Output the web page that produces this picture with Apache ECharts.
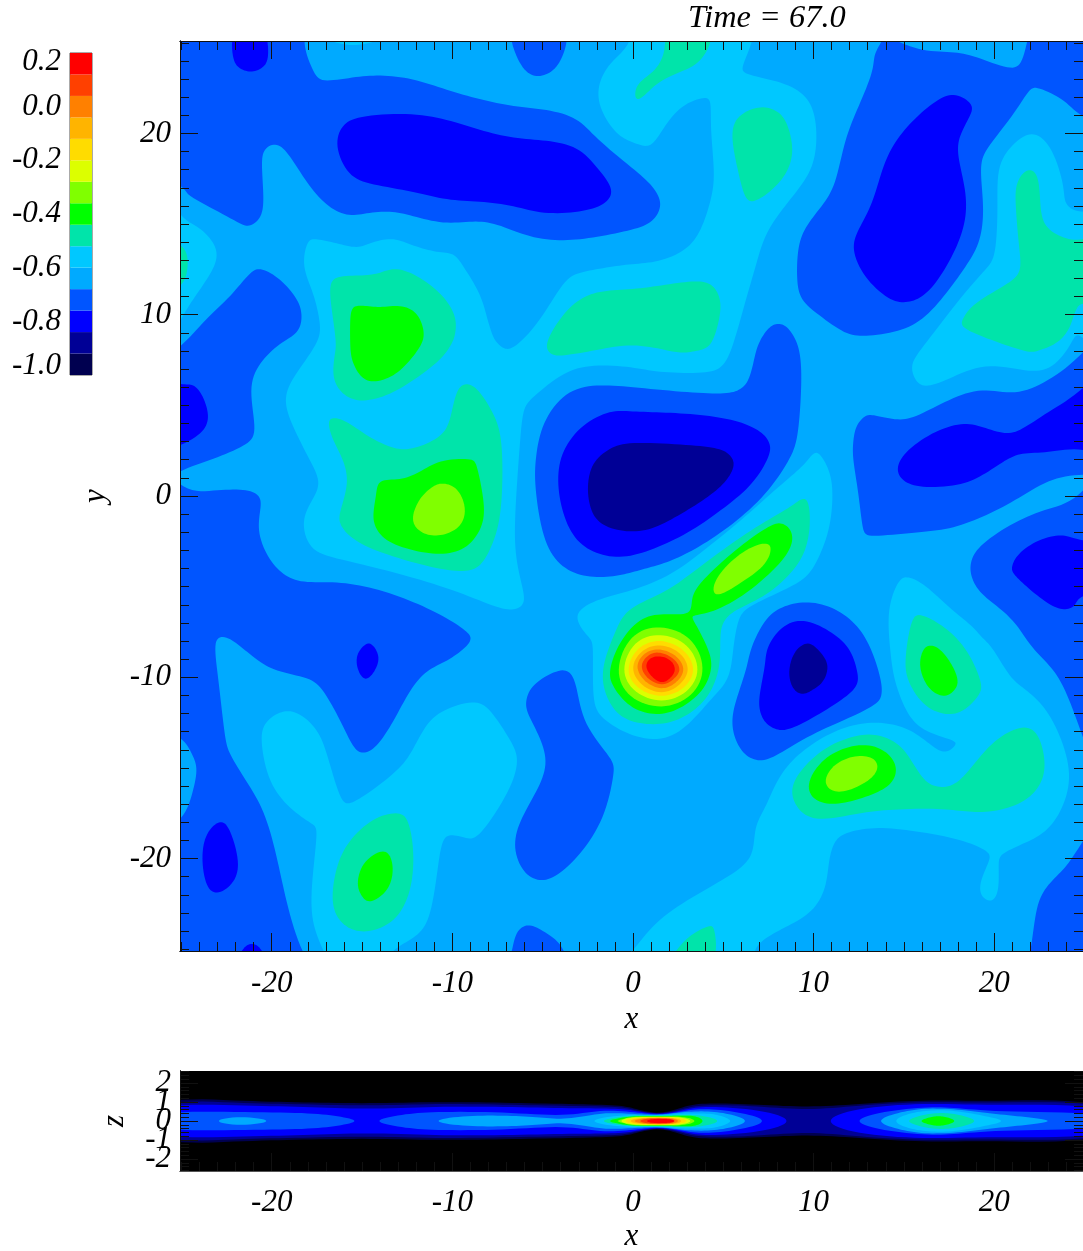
<!DOCTYPE html>
<html><head><meta charset="utf-8"><style>html,body{margin:0;padding:0;background:#fff;overflow:hidden}#c{width:1083px;height:1251px}</style>
<script src="https://cdn.jsdelivr.net/npm/echarts@6/dist/echarts.min.js"></script></head><body><div id="c"></div>
<script>
const titleText='Time = 67.0';
const levelColors=['#000050','#000096','#0000ff','#0055ff','#00aaff','#00c8ff','#00e4aa','#00ff00','#80ff00','#dcff00','#ffdc00','#ffb400','#ff8000','#ff4000','#ff0000'];
const barLabels=['-1.0','-0.8','-0.6','-0.4','-0.2','0.0','0.2'];
const barLabelSlots=[0.43,2.47,4.98,7.5,10,12.48,14.6];
const majorXY=[-20,-10,0,10,20];
const majorZ=[-2,-1,0,1,2];

// contour outlines in the x-y plane (x, y)
const c3TopLeft=[[-18.7,27],[-18.4,25.2],[-17.7,23.5],[-17.15,22.9],[-15.5,23.1],[-14,23.2],[-12.2,23],[-10.3,22.4],[-8.5,21.9],[-6.6,21.5],[-4.8,21.3],[-3.1,20.8],[-2,19.7],[-0.05,18.1],[1.05,17.1],[1.55,16.1],[1.05,15.15],[-0.05,14.7],[-2,14.3],[-3.85,14.1],[-5.7,14.3],[-7.55,15],[-8.85,15.15],[-10.5,15.05],[-12.2,15.45],[-13.45,15.7],[-14.75,15.6],[-15.85,15.5],[-17,16.1],[-18.05,17.3],[-19,18.75],[-19.7,19.4],[-20.4,19.1],[-20.55,18.2],[-20.45,16.35],[-20.65,15.35],[-21.3,14.9],[-21.95,15.15],[-24,16.25],[-24.7,16.7],[-25.1,17.3],[-27,19],[-27,27]];
const c2TopLong=[[-16.4,19.3],[-16.05,20.4],[-15.1,20.9],[-12.55,21.1],[-10.3,20.75],[-8.5,20.2],[-6.6,19.75],[-4.8,19.6],[-3.1,19.2],[-2,18.1],[-1.15,16.9],[-1.65,16.1],[-2.95,15.7],[-4.95,15.6],[-6.6,16],[-8.5,16.25],[-10.3,16.35],[-12.2,16.8],[-14.4,17.2],[-15.7,17.75]];
const c2TopSmall=[[-22.05,26],[-22.15,24.2],[-21.75,23.6],[-21.1,23.4],[-20.45,23.7],[-20.2,24.35],[-20.5,26]];
const c3TopSmall=[[-6.6,26],[-6.55,24.6],[-6,23.5],[-5.25,23.15],[-4.4,23.5],[-3.85,24.45],[-3.8,26]];
const c3TopRight=[[13.7,24.9],[14.15,25.3],[15.8,24.6],[17.65,24.5],[18.95,24.25],[20.8,23.6],[21.55,24],[22,25.7],[22.8,27],[27,27],[27,20.95],[24.9,20.95],[23.95,21.8],[22.45,22.5],[21.9,22.3],[21,20.95],[19.7,19.3],[19.3,18.4],[19.3,17.25],[19.4,15.6],[19.15,13.95],[18.4,12.65],[17.5,11.4],[16.2,9.9],[14.7,9.1],[12.85,8.85],[11.75,9],[10.3,10],[9.35,10.85],[9.1,11.95],[9.15,13.6],[9.55,14.8],[10.45,16],[11.2,17.25],[11.75,19.65],[12.5,21.5],[13.25,23.35],[13.35,24.25]];
const c2TopRight=[[17.85,22.15],[18.75,21.6],[18.65,20.95],[18.1,19.85],[18,18.75],[18.4,16.9],[18.4,15.25],[17.85,13.6],[16.9,11.95],[16,11],[15.1,10.7],[14.15,10.9],[12.85,12.1],[12.2,13.6],[12.5,14.7],[13.25,16.15],[13.8,18],[14.5,19.5],[15.65,20.85],[16.9,21.85]];
const c3Center=[[8.05,9.5],[8.6,9.25],[9.1,8.4],[9.3,7.3],[9.3,5.65],[9.1,3.25],[8.6,1.95],[7.33,0.1],[5.5,-1.55],[3.65,-2.8],[2.15,-3.55],[1.05,-3.9],[-0.05,-4.2],[-1.25,-4.45],[-2.75,-4.4],[-4.05,-3.75],[-4.95,-2.25],[-5.4,0.5],[-5.35,2.15],[-4.95,4],[-3.7,5.65],[-2,6.1],[-0.05,6],[2.7,5.75],[4.9,5.65],[5.85,5.85],[6.4,6.4],[6.7,7.5],[6.95,8.4],[7.5,9.25]];
const c2Center=[[-1.25,4.65],[-2.75,3.9],[-3.85,2.5],[-4.15,0.85],[-3.85,-0.98],[-3.1,-2.45],[-1.85,-3.2],[-0.35,-3.35],[1.4,-2.8],[3.25,-1.9],[5.1,-0.6],[6.6,0.68],[7.5,2.15],[7.55,2.9],[7.05,3.55],[5.85,4.1],[4,4.45],[1.8,4.6],[-0.05,4.65]];
const c1Center=[[-1.25,2.6],[-2.2,1.8],[-2.5,0.5],[-2.3,-0.8],[-1.65,-1.6],[-0.35,-1.95],[1.05,-1.8],[2.5,-1.07],[4,-0.15],[5.1,0.77],[5.6,1.7],[5.3,2.3],[4.55,2.65],[2.7,2.83],[-0.05,2.94]];
const c3Left=[[-21.2,12.3],[-20.55,12.5],[-19.55,11.95],[-18.6,10.85],[-18.35,9.9],[-18.6,9],[-19.55,8.4],[-20.65,7.3],[-21.2,5.85],[-20.9,3.6],[-21.55,2.8],[-23.25,2.05],[-25.1,1.45],[-27,0.9],[-27,6],[-24.8,8.4],[-23.6,9.8],[-22.3,11]];
const c2Left=[[-24.45,6.15],[-23.9,5.65],[-23.5,4.45],[-23.8,3.6],[-24.55,3.07],[-25.1,2.85],[-27,2.5],[-27,6.3],[-25.1,6.1]];
const c3LowerLeft=[[-25.1,0.1],[-23.25,0.3],[-21.55,0.35],[-20.75,0.03],[-20.6,-0.6],[-20.75,-1.9],[-20.2,-3.35],[-19.35,-4.3],[-18.25,-4.75],[-16.4,-4.75],[-14.35,-5.1],[-12.15,-5.85],[-10.3,-6.75],[-9.2,-7.5],[-9,-7.9],[-9.3,-8.37],[-10.3,-9.1],[-11.4,-9.65],[-12.35,-10.75],[-13.25,-12.4],[-14.2,-13.8],[-14.95,-14.15],[-15.5,-13.8],[-16.2,-12.4],[-17.15,-10.75],[-18,-10.05],[-19.75,-9.65],[-20.85,-9],[-21.65,-8.37],[-22.5,-7.8],[-23.15,-8.05],[-22.95,-10.05],[-22.6,-13.15],[-22.3,-14.25],[-21.4,-15.75],[-20.45,-17.4],[-19.75,-19.8],[-19.2,-22.35],[-18.45,-25.15],[-18.2,-27],[-27,-27],[-27,-0.2]];
const c2SmallMid=[[-14.55,-8.1],[-14.1,-8.75],[-14.2,-9.45],[-14.75,-10.15],[-15.2,-9.65],[-15.3,-8.9],[-15,-8.37]];
const c2LowLeft=[[-22.85,-17.95],[-22.3,-18.5],[-21.85,-20.15],[-22.1,-21.25],[-22.95,-21.9],[-23.6,-21.5],[-23.85,-19.95],[-23.6,-18.65]];
const c2BottomEdge=[[-21.9,-26],[-21.6,-25],[-21.1,-24.7],[-20.6,-25],[-20.3,-26]];
const c4LeftEdge=[[-25.08,-13.35],[-24.5,-14.15],[-24.15,-15],[-24.4,-16.3],[-25.1,-17.95],[-27,-18],[-27,-13]];
const c3LowerMid=[[-5.9,-11.3],[-5.5,-10.4],[-4.2,-9.65],[-3.5,-9.75],[-3.1,-10.6],[-2.65,-12.6],[-1.25,-14.45],[-1.1,-15.35],[-1.65,-17.75],[-2.95,-19.75],[-4.2,-20.9],[-5.15,-21.2],[-6.05,-20.7],[-6.55,-19.4],[-6.25,-17.95],[-5.35,-16.3],[-4.8,-14.8],[-5.15,-13.35],[-5.8,-12.05]];
const c3BottomPeak=[[-6.65,-26],[-6.65,-25.1],[-6.45,-24.1],[-5.8,-23.65],[-5,-24],[-4.2,-24.55],[-3.85,-25.15],[-3.8,-26]];
const c3BottomRight=[[22.1,-27],[22.1,-25.15],[22.35,-22.7],[23,-21.45],[23.95,-20.5],[24.9,-19.2],[27,-17],[27,-27]];
const c3RightMid=[[12.2,2.9],[12.35,3.8],[12.85,4.4],[13.4,4.45],[14.7,4.2],[15.8,4.45],[17.5,5.3],[19.35,5.9],[21.15,5.65],[23,6.4],[24.9,7.75],[27,9.5],[27,2],[24.9,1.3],[23,0.85],[21.15,-0.25],[19.35,-1.15],[17.5,-1.8],[15.65,-2],[13.25,-2.2],[12.75,-1.8],[12.5,0.1],[12.2,1.95]];
const c2RightMid=[[14.65,1.5],[15.1,2.4],[16.55,3.45],[18.2,4],[19.35,3.8],[20.6,3.45],[21.55,3.7],[23,4.65],[24.9,5.8],[27,7.5],[27,2.5],[24.9,2.7],[23,2.4],[21.55,2.35],[20.6,1.95],[19.35,1.15],[18,0.6],[16,0.5],[15,0.85]];
const c3RightLow=[[24.9,-0.15],[23,-0.7],[21.15,-1.45],[19.35,-2.65],[18.75,-3.55],[18.75,-4.45],[19.3,-5.4],[20.45,-6.3],[21.35,-7.25],[22.1,-8.37],[23.2,-9.5],[23.95,-10.75],[24.9,-13],[27,-17],[27,1]];
const c2RightLow=[[21,-3.9],[21.35,-3.2],[22.45,-2.45],[23.75,-2.15],[24.65,-2.45],[27,-3],[27,-5],[24.9,-5.4],[24.5,-6.05],[23.85,-6.25],[23,-5.95],[21.75,-4.95],[21.1,-4.3]];
const c3Mid=[[7.33,-6.85],[8.25,-6.15],[9.55,-5.85],[11,-6.15],[12.3,-7.05],[13.15,-8.37],[13.7,-10.05],[13.75,-10.95],[13.4,-11.5],[11.95,-12.25],[9.9,-13.15],[8.05,-14.25],[7.05,-14.6],[6.2,-14.25],[5.65,-13.35],[5.5,-12.3],[5.75,-11.15],[6.3,-9.5],[6.55,-8.37]];
const c2Mid=[[8.25,-7.25],[9.45,-6.85],[10.85,-7.45],[11.95,-8.37],[12.4,-9.65],[12.4,-10.4],[11.75,-11.1],[10.1,-12.15],[8.8,-12.8],[8.05,-12.9],[7.33,-12.5],[7,-11.7],[7.05,-10.75],[7.33,-9.3],[7.45,-8.37]];
const c1Mid=[[9.7,-8.1],[10.3,-8.55],[10.8,-9.3],[10.55,-10.2],[10,-10.65],[9.35,-10.95],[8.8,-10.5],[8.65,-9.55],[9,-8.55]];

const c5LeftEdge=[[-25.1,15.35],[-24.15,14.9],[-23.25,14],[-23.05,13.05],[-23.6,11.95],[-24.5,10.65],[-25.1,9.75],[-27,7.5],[-27,17]];
const c6LeftEdge=[[-25.1,13.9],[-24.7,13.2],[-24.7,12.5],[-25.1,11.5],[-27,11],[-27,14.5]];
const c5Big=[[-18,14],[-17.5,14.15],[-16.4,13.95],[-15.3,13.7],[-14.4,14],[-13.25,14.2],[-12.15,13.8],[-10.85,13.45],[-9.95,13.35],[-9.4,12.65],[-8.5,11.2],[-8.1,9.9],[-7.75,8.8],[-7.45,8.4],[-7,8.1],[-6.35,8.4],[-5.15,9.7],[-3.85,11.75],[-2.95,12.3],[-1.45,12.6],[-0.05,12.8],[1.4,12.95],[2.9,13.6],[3.75,14.7],[4.3,16.35],[4.5,17.8],[4.3,20.2],[4.3,21.7],[3.9,21.95],[2.9,21.6],[2,20.75],[1.25,19.6],[0.7,19.3],[-0.05,19.55],[-0.9,20],[-1.75,21.3],[-1.9,22.6],[-1.25,23.9],[-0.05,25],[0.5,26.5],[6,26.5],[6.6,25.2],[6.05,23.7],[6.4,23.25],[8.25,22.8],[9.55,22.05],[10.1,20.75],[10.1,18.9],[9.55,17.45],[8.25,15.8],[7.33,14.35],[6.85,12.85],[6.2,10.65],[5.55,8.4],[4.9,7.1],[3.65,6.8],[1.4,6.85],[-0.05,7.1],[-2.2,7.2],[-3.85,6.75],[-5.5,5.45],[-6.05,4.7],[-6.25,2.9],[-6.45,0.15],[-6.55,-2.65],[-6.25,-4.5],[-6,-5.75],[-6.45,-6.2],[-7.35,-6.2],[-9.4,-5.4],[-12.15,-4.5],[-15.85,-3.55],[-17.7,-3],[-18.25,-1.55],[-17.9,-0.45],[-17.35,0.68],[-17.9,1.97],[-18.8,3.8],[-19.25,5.25],[-18.8,6.55],[-17.5,8.4],[-17.35,9.55],[-17.7,11.2],[-18.25,12.65]];
const c5TopSmall=[[-17,26],[-16.9,25.2],[-15.5,24.85],[-14,25.2],[-13.9,26]];
const c5Hot=[[10.3,2.35],[10.85,1.41],[11.05,0.13],[10.85,-1.9],[10.1,-3.74],[9.35,-4.65],[7.9,-5.4],[6.4,-6.15],[5.85,-6.85],[5.55,-8.37],[5.3,-10.05],[4.35,-11.15],[3.25,-12.4],[1.8,-13.4],[-0.05,-13.2],[-1.65,-12.25],[-2.2,-11.15],[-2.2,-8.37],[-2.45,-7.8],[-3.2,-6.6],[-2,-5.75],[-0.05,-5.2],[2.15,-4.3],[4.35,-2.65],[6.2,-1.15],[8.05,0.5],[9.35,1.6],[9.9,2.25]];
const c5UpperRight=[[22.2,20],[23.2,19.1],[23.85,17.1],[23.95,16.15],[24.9,15.5],[27,15],[27,6.5],[24.9,9],[24.3,8.4],[23.2,7.1],[21.75,6.9],[19.5,7.25],[17.5,6.45],[16.2,6.05],[15.65,6.45],[15.45,7.3],[16.2,8.4],[18.2,11],[19.5,12.5],[20.05,13.4],[20.2,16],[20.25,18.2],[21.2,19.5]];
const c5LowerRight=[[14.15,-6.3],[14.7,-4.75],[15.25,-4.5],[16.2,-4.95],[17.5,-6.15],[18.75,-7.15],[19.3,-7.8],[19.9,-8.37],[20.8,-9.85],[21.55,-10.55],[22.65,-11.5],[23.6,-13.15],[24.2,-15.35],[23.75,-17.2],[22.85,-18.5],[21.55,-19.2],[20.45,-19.75],[20.25,-20.3],[20.25,-21.6],[19.9,-22.35],[19.3,-22.05],[19.25,-21.25],[19.7,-20.15],[19.6,-19.6],[18.05,-18.95],[15.65,-18.5],[13.6,-18.3],[11.95,-18.55],[11.2,-19.05],[10.85,-20.15],[10.65,-21.6],[9.9,-22.9],[8.6,-23.7],[7.33,-24.4],[6.6,-25.15],[6.2,-26],[-0.25,-26],[0.05,-25.15],[1.25,-23.55],[3.25,-22.15],[5.5,-20.85],[6.6,-19.8],[6.75,-18.3],[7.33,-17.2],[7.9,-15.9],[8.8,-14.6],[10.3,-13.45],[11.95,-12.7],[13.6,-12.5],[15.1,-12.8],[16.2,-13.5],[16.95,-14.05],[17.5,-14.05],[17.85,-13.7],[17.65,-13.45],[16.2,-12.95],[15.25,-12.05],[14.5,-10.2],[14.25,-8.37]];
const c5LowerLeft=[[-20.55,-13.7],[-20.4,-12.6],[-19.55,-11.95],[-18.6,-11.95],[-17.5,-12.9],[-16.95,-14.25],[-16.5,-15.75],[-16.1,-16.75],[-15.65,-16.95],[-14.55,-16.3],[-12.9,-15],[-12.15,-13.9],[-11.4,-12.6],[-10.5,-11.85],[-8.85,-11.35],[-7.9,-11.85],[-6.8,-13.5],[-6.4,-14.6],[-6.9,-16.3],[-8.45,-18.65],[-9.2,-18.85],[-10.1,-18.7],[-10.6,-19.2],[-10.9,-21.25],[-11.35,-23.45],[-12.15,-24.35],[-13.25,-25],[-14,-25.65],[-16.6,-25.65],[-17.05,-25.15],[-17.7,-23.65],[-17.8,-21.6],[-17.5,-18.65],[-17.8,-18.1],[-19,-17.2],[-20.1,-15.75]];

const c6Top=[[2,25.7],[1.8,24.6],[1.25,23.5],[0.3,22.8],[0.13,22.05],[0.4,21.9],[1.05,22.5],[1.8,23.05],[3.1,23.6],[3.9,24.25],[4.35,25.7]];
const c6TopBlob=[[6.95,21.45],[7.9,21.25],[8.5,20.6],[8.85,19.1],[8.5,17.85],[7.7,16.9],[6.7,16.25],[6.2,16.55],[5.85,17.85],[5.5,19.65],[5.75,20.85]];
const c6Flat=[[-4.05,9.75],[-2.95,10.85],[-1.65,11.3],[-0.05,11.4],[1.8,11.65],[3.45,11.85],[4.35,11.65],[4.8,10.9],[4.8,9.9],[4.35,8.4],[3.65,8.05],[2.7,7.9],[1.8,8.05],[-0.05,8.35],[-2,8.05],[-3.85,7.75],[-4.5,7.85],[-4.8,8.4]];
const c6UpperLeft=[[-16.75,11.5],[-16.4,12.1],[-14.95,12.15],[-14,12.3],[-13.1,12.55],[-11.8,12.05],[-10.5,11],[-9.85,9.9],[-9.85,9],[-10.05,8.4],[-10.7,7.5],[-12.15,6.4],[-13.65,5.55],[-15.1,5.25],[-16.05,5.65],[-16.6,6.55],[-16.5,7.85],[-16.45,8.6],[-16.7,10.45]];
const c7UpperLeft=[[-15.65,9.75],[-15.5,10.4],[-14.95,10.5],[-14,10.4],[-12.9,10.5],[-12,10.1],[-11.6,9.15],[-11.7,8.4],[-12.35,7.5],[-13.25,6.65],[-14.4,6.3],[-15.1,6.65],[-15.55,7.5],[-15.65,8.4]];
const c6MidLeft=[[-16.85,3.99],[-16.6,4.3],[-15.85,4.1],[-14.75,3.35],[-13.65,2.8],[-12.55,2.55],[-11.25,2.98],[-10.3,3.7],[-9.95,5.1],[-9.6,6],[-9.1,6.15],[-8.5,5.75],[-7.65,4.35],[-7.25,2.7],[-7.3,-0.8],[-7.8,-2.65],[-8.45,-3.8],[-9.4,-4.15],[-11.25,-3.9],[-14,-3.1],[-15.5,-2.35],[-16.2,-1.55],[-16.2,-0.8],[-15.8,0.68],[-16.05,1.97],[-16.6,3.07]];
const c7MidLeft=[[-14.2,0.1],[-14,0.86],[-12.9,0.9],[-11.8,1.32],[-10.7,1.93],[-9.05,2.02],[-8.65,1.6],[-8.25,-0.43],[-8.4,-1.7],[-9.2,-2.8],[-10.5,-3.2],[-12.15,-3],[-13.65,-2.45],[-14.3,-1.6],[-14.35,-0.8]];
const c8MidLeft=[[-10.5,0.68],[-9.75,0.4],[-9.3,-0.6],[-9.5,-1.55],[-10.3,-2.08],[-11.25,-2.17],[-11.95,-1.8],[-12.2,-1.16],[-11.8,-0.15],[-11.05,0.53]];
const c6LowLeft=[[-13.1,-17.5],[-12.45,-17.95],[-12.15,-19.8],[-12.35,-21.8],[-13.1,-23.25],[-14.2,-23.9],[-15.3,-24],[-16.2,-23.45],[-16.65,-22.35],[-16.4,-20.5],[-15.7,-19.05],[-14.4,-17.85]];
const c7LowLeft=[[-14,-19.6],[-13.45,-19.85],[-13.3,-20.8],[-13.65,-21.8],[-14.55,-22.4],[-15,-22.05],[-15.25,-21.4],[-14.95,-20.3]];
const c6Hot=[[8.15,-0.94],[8.9,-0.48],[9.6,-0.1],[9.8,-1.3],[9.6,-2.78],[8.9,-4.07],[7.4,-5.45],[5.75,-6.27],[4.85,-7.2],[4.85,-9.13],[4.27,-10.87],[3.15,-11.98],[1.87,-12.53],[0.39,-12.53],[-0.9,-11.98],[-1.64,-10.5],[-1.55,-9.03],[-0.9,-7.38],[-0.16,-6.18],[1.87,-5.26],[3.72,-3.88],[6.3,-2.04]];
const c7Hot=[[8.15,-1.49],[8.7,-1.86],[8.8,-2.6],[8.15,-3.7],[6.3,-5.35],[4.45,-6.37],[3.35,-6.6],[3.44,-7],[4.27,-8.67],[4.27,-9.77],[3.72,-10.87],[2.42,-11.8],[1.13,-12.03],[-0.16,-11.6],[-1.08,-10.5],[-1.27,-9.59],[-0.72,-8.1],[0.39,-6.83],[1.68,-6.5],[3.16,-6.5],[3.25,-5.54],[4.08,-4.43],[5.93,-2.78],[7.4,-1.77]];
const c8Diag=[[7.31,-2.6],[7.63,-2.96],[7.22,-3.88],[5.93,-4.8],[4.82,-5.45],[4.45,-5.17],[4.82,-4.25],[6.11,-3.06]];
const c8Ring=[[-0.84,-9.59],[-0.07,-7.75],[1.5,-7.23],[3.16,-7.84],[3.9,-9.49],[3.25,-10.97],[1.59,-11.66],[-0.16,-11.06]];
const c9Ring=[[-0.53,-9.59],[0.12,-8.1],[1.5,-7.65],[2.98,-8.2],[3.62,-9.59],[2.98,-10.78],[1.59,-11.33],[0.12,-10.78]];
const c10Ring=[[-0.29,-9.59],[0.3,-8.39],[1.5,-7.97],[2.79,-8.48],[3.38,-9.59],[2.79,-10.6],[1.59,-11.06],[0.3,-10.6]];
const c11Ring=[[-0.03,-9.49],[0.48,-8.57],[1.5,-8.21],[2.61,-8.67],[3.07,-9.59],[2.57,-10.41],[1.59,-10.87],[0.48,-10.41]];
const c12Ring=[[0.21,-9.4],[0.67,-8.67],[1.5,-8.45],[2.42,-8.85],[2.83,-9.62],[2.33,-10.32],[1.59,-10.63],[0.67,-10.23]];
const c13Ring=[[0.45,-9.4],[0.85,-8.79],[1.5,-8.63],[2.27,-9],[2.61,-9.62],[2.15,-10.17],[1.59,-10.41],[0.85,-10.08]];
const c14Ring=[[0.72,-9.4],[0.98,-8.94],[1.59,-8.85],[2.15,-9.13],[2.33,-9.62],[2.05,-10.05],[1.59,-10.3],[1.04,-9.95]];
const c6Right=[[21.85,18],[22.4,17.65],[22.55,16.35],[22.75,15],[23.75,14.3],[24.9,14.05],[27,14],[27,9],[24.9,11],[24.3,9.35],[23.4,8.4],[22.45,8.05],[21.9,7.95],[20.45,8.4],[18.4,9.2],[18.3,9.75],[18.95,10.65],[20.8,11.75],[21.45,12.5],[21.35,13.95],[21.2,16],[21.25,17.25]];
const c6LowerRightUp=[[15.45,-6.85],[16,-6.6],[17.1,-7.15],[18.4,-8.37],[19.25,-10.2],[19.15,-10.95],[18.4,-11.75],[17.5,-12.05],[16.2,-11.6],[15.25,-10.2],[15.1,-8.9]];
const c7LowerRightUp=[[16.45,-8.25],[17,-8.46],[17.65,-9.3],[18,-10.2],[17.75,-10.75],[17.2,-11.05],[16.45,-10.67],[16,-9.85],[15.9,-9.1],[16.1,-8.46]];
const c6LowerRight=[[8.8,-16.45],[9.15,-15.35],[10.45,-14.05],[11.95,-13.35],[13.4,-13.15],[14.7,-13.7],[15.45,-14.65],[16.2,-15.75],[17.1,-16.05],[18.05,-15.75],[19.15,-14.45],[20.25,-13.35],[21.55,-12.75],[22.4,-13.15],[22.8,-14.65],[22.55,-15.9],[21.55,-16.9],[19.9,-17.4],[18.4,-17.4],[16.95,-17.25],[14.35,-17.3],[12.5,-17.5],[10.45,-17.85],[9.35,-17.45]];
const c7LowerRight=[[9.7,-15.9],[10.45,-14.65],[11.75,-13.9],[13.25,-13.75],[14.35,-14.45],[14.55,-15.35],[14,-16.1],[12.7,-16.65],[11.2,-17],[10.1,-16.75]];
const c8LowerRight=[[10.65,-15.65],[11.2,-14.8],[12.3,-14.35],[13.25,-14.45],[13.55,-15],[13.05,-15.7],[11.75,-16.3],[10.95,-16.2]];
const c6BottomPeak=[[2.25,-26],[2.35,-25.15],[3.25,-24.2],[4.2,-23.75],[4.5,-24],[4.45,-26]];

// upper half-profiles of the x-z slice (x, half height in z)
const z0=[[-26.5,1.04],[-21.95,1.04],[-18.25,0.98],[-14.55,0.93],[-10.9,1],[-7.2,0.96],[-3.5,0.89],[-0.9,0.82],[0.11,0.65],[1.5,0.39],[2.9,0.77],[4.15,0.93],[6.95,0.86],[9.7,0.75],[12.5,0.89],[16.15,1.09],[19.9,1.02],[26.5,0.96]];
const z1=[[-26.5,0.93],[-21.95,0.93],[-18.25,0.88],[-14.55,0.81],[-10.9,0.9],[-7.2,0.86],[-3.5,0.79],[-0.9,0.74],[0.11,0.58],[1.5,0.37],[2.9,0.67],[4.15,0.84],[6.95,0.77],[9.7,0.6],[12.5,0.81],[16.15,1],[19.9,0.93],[26.5,0.88]];
const z2a=[[-26.5,0.77],[-21.95,0.79],[-18.25,0.75],[-14.75,0.63],[-10.9,0.75],[-7.2,0.74],[-3.5,0.67],[-0.9,0.65],[0.11,0.53],[1.5,0.35],[2.9,0.6],[4.15,0.75],[6.95,0.56],[8.7,0]];
const z2b=[[10.8,0],[12.5,0.63],[16.15,0.91],[19.9,0.81],[26.5,0.75]];
const z3a=[[-26.5,0.42],[-21.95,0.46],[-18.25,0.42],[-16.4,0.25],[-15.3,0]];
const z3b=[[-14.25,0],[-12.7,0.33],[-10.9,0.47],[-7.2,0.46],[-3.85,0.28],[-1.85,0.56],[0.11,0.46],[1.5,0.33],[2.9,0.54],[4.15,0.63],[6,0.42],[7.3,0]];
const z3c=[[12.45,0],[13.6,0.42],[16.15,0.72],[18,0.67],[20.8,0.47],[26.5,0.37]];
const z4a=[[-23.1,0],[-21.75,0.23],[-20.05,0]];
const z4b=[[-10.95,0],[-9.4,0.25],[-7.2,0.28],[-5.35,0.21],[-3.85,0.1],[-2.2,0.33],[-1.3,0.42],[0.11,0.37],[1.5,0.32],[2.7,0.46],[4.15,0.51],[5.45,0.33],[6.3,0]];
const z4c=[[13.6,0],[14.7,0.42],[16.15,0.65],[18,0.6],[19.85,0.39],[21.7,0.21],[23.15,0]];
const z5a=[[-2.2,0],[-1.45,0.21],[0.11,0.33],[1.5,0.3],[2.7,0.39],[4.15,0.39],[4.9,0.25],[5.45,0]];
const z5b=[[14.45,0],[15.45,0.42],[16.7,0.56],[18,0.51],[19.5,0.25],[20.5,0]];
const z6a=[[-1.65,0],[-1.1,0.16],[0.11,0.3],[1.5,0.28],[2.7,0.33],[3.8,0.28],[4.8,0]];
const z6b=[[15.15,0],[16.15,0.33],[17.1,0.42],[18,0.33],[19.05,0]];
const z7a=[[-1.3,0],[-0.9,0.12],[0.11,0.26],[1.5,0.25],[2.7,0.28],[3.45,0.25],[3.9,0]];
const z7b=[[15.9,0],[16.45,0.19],[16.9,0.25],[17.4,0.19],[17.85,0]];
const z8=[[-0.9,0],[-0.45,0.12],[0.1,0.23],[1.5,0.23],[2.7,0.23],[3.5,0]];
const z9=[[-0.7,0],[0,0.19],[1.5,0.21],[2.6,0.19],[3.25,0]];
const z10=[[-0.44,0],[0.11,0.16],[1.5,0.19],[2.5,0.16],[3,0]];
const z11=[[-0.15,0],[0.3,0.14],[1.5,0.18],[2.35,0.14],[2.7,0]];
const z12=[[0.06,0],[0.5,0.12],[1.5,0.16],[2.25,0.12],[2.5,0]];
const z13=[[0.4,0],[0.67,0.11],[1.5,0.14],[2.15,0.1],[2.3,0]];
const z14=[[0.76,0],[1,0.09],[1.5,0.11],[2.05,0.09],[2.3,0]];

const xyLayers=[[3,c3TopLeft],[3,c3TopSmall],[3,c3TopRight],[3,c3Center],[3,c3Left],[3,c3LowerLeft],[3,c3LowerMid],[3,c3BottomPeak],[3,c3BottomRight],[3,c3RightMid],[3,c3RightLow],[3,c3Mid],[4,c4LeftEdge],
[2,c2TopLong],[2,c2TopSmall],[2,c2TopRight],[2,c2Center],[2,c2Left],[2,c2SmallMid],[2,c2LowLeft],[2,c2BottomEdge],[2,c2RightMid],[2,c2RightLow],[2,c2Mid],[1,c1Center],[1,c1Mid],
[5,c5LeftEdge],[5,c5Big],[5,c5TopSmall],[5,c5Hot],[5,c5UpperRight],[5,c5LowerRight],[5,c5LowerLeft],
[6,c6LeftEdge],[6,c6Top],[6,c6TopBlob],[6,c6Flat],[6,c6UpperLeft],[6,c6MidLeft],[6,c6LowLeft],[6,c6Hot],[6,c6Right],[6,c6LowerRightUp],[6,c6LowerRight],[6,c6BottomPeak],
[7,c7UpperLeft],[7,c7MidLeft],[7,c7LowLeft],[7,c7Hot],[7,c7LowerRightUp],[7,c7LowerRight],[8,c8MidLeft],[8,c8Diag],[8,c8LowerRight],
[8,c8Ring],[9,c9Ring],[10,c10Ring],[11,c11Ring],[12,c12Ring],[13,c13Ring],[14,c14Ring]];
const xzLayers=[[0,z0],[1,z1],[2,z2a],[2,z2b],[3,z3a],[3,z3b],[3,z3c],[4,z4a],[4,z4b],[4,z4c],[5,z5a],[5,z5b],[6,z6a],[6,z6b],[7,z7a],[7,z7b],[8,z8],[9,z9],[10,z10],[11,z11],[12,z12],[13,z13],[14,z14]];

const serif='"Liberation Serif","Times New Roman",serif';
const fontSize=31;
const unitTicks=[];for(let v=-25;v<=25;v++)if(v%10!==0)unitTicks.push(v);
const zFine=[];for(let v=-26;v<=26;v+=2)if(v%10!==0)zFine.push(v/10);
const X=[-25.08,24.92],Y=[-25.1,25.1],Z=[-2.63,2.63];
const ink='#111';
function ax(grid,pos,range,ticks,len,extra){
  return Object.assign({type:'value',gridIndex:grid,position:pos,min:range[0],max:range[1],z:5,splitLine:{show:false},
    axisLine:{show:true,onZero:false,lineStyle:{color:ink,width:1}},
    axisTick:{show:true,inside:true,length:len,customValues:ticks,lineStyle:{color:ink,width:1}},
    axisLabel:{show:false}},extra||{});
}
function labeled(vals,margin,pad){return {axisLabel:{show:true,customValues:vals,margin:margin,padding:pad,color:'#000',fontFamily:serif,fontStyle:'italic',fontSize:fontSize,hideOverlap:false,showMinLabel:true,showMaxLabel:true}};}
function axName(n,gap,rot){return {name:n,nameLocation:'middle',nameGap:gap,nameRotate:rot,nameTextStyle:{color:'#000',fontFamily:serif,fontStyle:'italic',fontSize:fontSize}};}
const axisX=[
 ax(0,'bottom',X,majorXY,18,Object.assign(labeled(majorXY,17,0),axName('x',50,0))),
 ax(0,'bottom',X,unitTicks,9),ax(0,'top',X,majorXY,18),ax(0,'top',X,unitTicks,9),
 ax(1,'bottom',X,majorXY,18,Object.assign(labeled(majorXY,16,0),axName('x',50,0))),
 ax(1,'bottom',X,unitTicks,9),
 {type:'value',gridIndex:2,min:0,max:1,show:false}
];
axisX[4].axisLine.lineStyle.color='#555';axisX[5].axisLine.lineStyle.color='#555';
const axisY=[
 ax(0,'left',Y,majorXY,18,Object.assign(labeled(majorXY,9,[6,0,0,0]),axName('y',69,90))),
 ax(0,'left',Y,unitTicks,9),ax(0,'right',Y,majorXY,18),ax(0,'right',Y,unitTicks,9),
 ax(1,'left',Z,[0,2,-2],18,Object.assign(labeled([-2,0,2],9,[6,0,0,0]),axName('z',50,90))),
 ax(1,'left',Z,zFine,9),ax(1,'right',Z,majorZ,18),ax(1,'right',Z,zFine,9),
 {type:'value',gridIndex:2,min:0,max:15,splitLine:{show:false},axisLine:{show:false},axisTick:{show:false},
  axisLabel:{show:true,customValues:barLabelSlots,margin:9,padding:[7,0,0,0],color:'#000',fontFamily:serif,fontStyle:'italic',fontSize:fontSize,
   formatter:function(v){const i=barLabelSlots.indexOf(v);return i>=0?barLabels[i]:'';}}},
 ax(1,'left',Z,[-1,1],18,labeled([-1,1],9,[6,0,0,0]))
];
// round a traced outline into a smooth closed curve (pixel space, rendering only)
function rounded(pts,k,passes){
  let n=pts.length;
  let cur=pts.map((p,i)=>{const a=pts[(i+n-1)%n],b=pts[(i+1)%n];
    return [p[0]+k*(p[0]-(a[0]+b[0])/2),p[1]+k*(p[1]-(a[1]+b[1])/2)];});
  for(let s=0;s<passes;s++){
    n=cur.length;const out=[];
    for(let i=0;i<n;i++){
      const a=cur[(i+n-1)%n],p=cur[i],b=cur[(i+1)%n];
      out.push([(a[0]+6*p[0]+b[0])/8,(a[1]+6*p[1]+b[1])/8]);
      out.push([(p[0]+b[0])/2,(p[1]+b[1])/2]);
    }
    cur=out;
  }
  return cur;
}
function contourSeries(xi,yi,polys,z){
  return {type:'custom',xAxisIndex:xi,yAxisIndex:yi,coordinateSystem:'cartesian2d',clip:true,silent:true,animation:false,z:z,
    data:polys.map((p,i)=>[p.pts[0][0],p.pts[0][1],i]),
    renderItem:function(params,api){
      const p=polys[api.value(2)];
      return {type:'polygon',shape:{points:rounded(p.pts.map(q=>api.coord(q)),0.28,3)},style:{fill:levelColors[p.level]}};
    }};
}
const xyPolys=xyLayers.map(l=>({level:l[0],pts:l[1]}));
const xzPolys=xzLayers.map(l=>{
  const up=l[1],low=up.filter(q=>q[1]!==0).map(q=>[q[0],-q[1]]).reverse();
  return {level:l[0],pts:up.concat(low)};
});
const chart=echarts.init(document.getElementById('c'),null,{renderer:'canvas'});
chart.setOption({
 animation:false,backgroundColor:'#fff',
 title:{text:titleText,left:683,top:-3,textStyle:{fontFamily:serif,fontStyle:'italic',fontWeight:'normal',fontSize:32.4,color:'#000'}},
 grid:[
  {left:180,width:903,top:41,height:910,show:true,backgroundColor:levelColors[4],borderWidth:0,outerBoundsMode:'none'},
  {left:180,width:903,top:1071,height:100,show:true,backgroundColor:'#000',borderWidth:0,outerBoundsMode:'none'},
  {left:70,width:22,top:53,height:322,show:true,borderColor:'#555',borderWidth:1,outerBoundsMode:'none'}
 ],
 xAxis:axisX,yAxis:axisY,
 series:[
  contourSeries(0,0,xyPolys,1),
  contourSeries(4,4,xzPolys,1),
  {type:'custom',xAxisIndex:6,yAxisIndex:8,silent:true,animation:false,z:3,
   data:levelColors.map((c,i)=>[0,i]),
   renderItem:function(params,api){
     const a=api.coord([0,api.value(1)]),b=api.coord([1,api.value(1)+1]);
     return {type:'rect',shape:{x:a[0],y:b[1],width:b[0]-a[0],height:a[1]-b[1]},style:{fill:levelColors[api.value(1)]}};
   }}
 ]
});
</script></body></html>
